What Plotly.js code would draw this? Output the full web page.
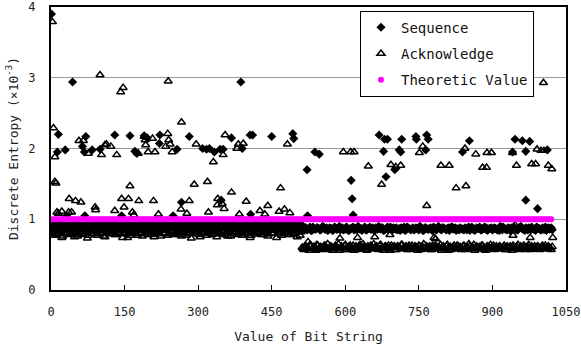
<!DOCTYPE html>
<html>
<head>
<meta charset="utf-8">
<script src="https://cdn.plot.ly/plotly-3.0.1.min.js"></script>
<style>html,body{margin:0;padding:0;background:#fff;}#chart{width:581px;height:349px;}</style>
</head>
<body>
<div id="chart"></div>
<script>
// ---- Data ----
const bandStep = 4;           // spacing of the dense band samples (bit string values)
const lowStart = 0;           // first band segment starts at 0
const highStart = 512;        // second band segment starts at 512
const secondOffset = 2;       // second sample set sits between the first

// Sequence: dense band values, bit strings 0..508 (even multiples of 4)
const seqLowY = [
0.93,0.90,0.95,0.88,0.92,0.94,0.89,0.91,
0.96,0.87,0.93,0.90,0.94,0.88,0.92,0.95,
0.89,0.91,0.93,0.86,0.94,0.90,0.92,0.95,
0.88,0.93,0.91,0.89,0.96,0.90,0.87,0.94,
0.92,0.89,0.95,0.91,0.88,0.93,0.90,0.94,
0.86,0.92,0.95,0.89,0.91,0.93,0.88,0.96,
0.90,0.92,0.87,0.94,0.91,0.89,0.95,0.93,
0.88,0.90,0.94,0.92,0.86,0.95,0.89,0.91,
0.93,0.90,0.96,0.88,0.92,0.94,0.87,0.91,
0.95,0.89,0.93,0.90,0.88,0.94,0.92,0.96,
0.89,0.91,0.87,0.93,0.95,0.90,0.92,0.88,
0.94,0.91,0.86,0.93,0.95,0.89,0.90,0.92,
0.94,0.88,0.91,0.95,0.87,0.93,0.90,0.92,
0.96,0.89,0.91,0.94,0.88,0.93,0.90,0.95,
0.87,0.92,0.89,0.94,0.91,0.93,0.88,0.96,
0.90,0.92,0.86,0.94,0.91,0.89,0.95,0.93];
// Sequence: dense band values, bit strings 2..510
const seqLowY2 = [
0.91,0.94,0.88,0.92,0.96,0.89,0.93,0.87,
0.95,0.90,0.92,0.88,0.94,0.91,0.86,0.93,
0.90,0.95,0.89,0.92,0.87,0.94,0.91,0.96,
0.88,0.92,0.94,0.90,0.86,0.93,0.95,0.89,
0.91,0.87,0.94,0.92,0.89,0.96,0.90,0.93,
0.88,0.95,0.91,0.86,0.93,0.90,0.94,0.89,
0.92,0.96,0.88,0.91,0.93,0.87,0.95,0.90,
0.94,0.89,0.92,0.86,0.91,0.93,0.88,0.95,
0.90,0.94,0.87,0.92,0.89,0.96,0.91,0.93,
0.88,0.90,0.95,0.92,0.86,0.94,0.89,0.91,
0.93,0.87,0.90,0.96,0.92,0.88,0.94,0.91,
0.89,0.95,0.93,0.87,0.90,0.92,0.86,0.94,
0.91,0.89,0.95,0.88,0.93,0.90,0.96,0.92,
0.87,0.94,0.91,0.89,0.93,0.86,0.95,0.90,
0.92,0.88,0.94,0.91,0.96,0.89,0.93,0.87,
0.90,0.95,0.92,0.88,0.94,0.91,0.89,0.93];
// Sequence: dense band values, bit strings 512..1020
const seqHighY = [
0.87,0.85,0.88,0.86,0.89,0.84,0.87,0.86,
0.88,0.85,0.87,0.89,0.86,0.84,0.88,0.87,
0.85,0.88,0.86,0.90,0.87,0.85,0.86,0.88,
0.84,0.87,0.89,0.86,0.85,0.88,0.87,0.86,
0.89,0.85,0.87,0.86,0.88,0.84,0.87,0.90,
0.86,0.88,0.85,0.87,0.86,0.89,0.85,0.87,
0.88,0.86,0.84,0.87,0.89,0.85,0.88,0.86,
0.87,0.85,0.88,0.86,0.90,0.87,0.84,0.88,
0.86,0.87,0.85,0.89,0.86,0.88,0.87,0.85,
0.88,0.86,0.87,0.84,0.89,0.86,0.88,0.87,
0.85,0.87,0.86,0.88,0.85,0.89,0.87,0.86,
0.84,0.88,0.87,0.85,0.86,0.89,0.88,0.86,
0.87,0.85,0.88,0.86,0.87,0.90,0.85,0.87,
0.86,0.88,0.84,0.87,0.89,0.86,0.85,0.88,
0.87,0.86,0.88,0.85,0.87,0.89,0.86,0.84,
0.88,0.87,0.85,0.86,0.89,0.87,0.86,0.88];
// Sequence: dense band values, bit strings 514..1022
const seqHighY2 = [
0.86,0.88,0.85,0.87,0.84,0.89,0.86,0.88,
0.87,0.85,0.90,0.86,0.88,0.85,0.87,0.84,
0.89,0.86,0.87,0.85,0.88,0.86,0.89,0.84,
0.87,0.88,0.85,0.87,0.90,0.86,0.84,0.88,
0.85,0.87,0.89,0.86,0.85,0.88,0.86,0.87,
0.88,0.84,0.86,0.89,0.87,0.85,0.88,0.86,
0.85,0.87,0.88,0.86,0.84,0.89,0.87,0.85,
0.88,0.86,0.87,0.85,0.89,0.84,0.88,0.87,
0.86,0.88,0.84,0.87,0.85,0.90,0.86,0.88,
0.87,0.85,0.88,0.86,0.89,0.87,0.84,0.86,
0.88,0.86,0.85,0.87,0.88,0.84,0.89,0.87,
0.86,0.87,0.89,0.85,0.88,0.86,0.84,0.87,
0.88,0.86,0.87,0.85,0.84,0.88,0.89,0.86,
0.85,0.87,0.88,0.86,0.87,0.85,0.88,0.90,
0.86,0.84,0.87,0.88,0.85,0.87,0.86,0.89,
0.87,0.85,0.88,0.86,0.84,0.88,0.87,0.85];
// Sequence: scattered values away from the band
const seqOutX = [1,44,387,15,71,64,68,13,29,84,100,130,161,171,175,190,196,221,222,257,282,309,317,323,333,345,351,368,390,406,411,450,493,495,538,547,522,612,614,616,523,669,678,680,686,683,701,710,713,715,744,745,764,766,769,839,853,941,946,961,968,976,1012,968,992,266,347,407,32,69,144,249];
const seqOutY = [3.90,2.94,2.94,2.20,2.17,2.03,1.95,1.95,1.98,1.98,1.99,2.19,2.18,1.96,1.93,2.18,2.15,2.07,2.19,1.99,2.17,2.00,1.99,2.00,1.95,1.99,1.99,2.15,2.00,2.19,2.19,2.17,2.21,2.14,1.95,1.92,1.70,1.55,1.29,1.06,1.05,2.19,1.96,2.13,2.13,1.60,1.70,1.98,1.95,2.13,2.17,2.13,1.98,2.19,2.13,1.95,2.11,1.95,2.13,2.11,1.96,2.10,1.98,1.27,1.15,1.24,1.27,1.07,1.05,1.05,1.05,1.05];

// Acknowledge: dense band values, bit strings 0..508
const ackLowY = [
0.86,0.80,0.84,0.78,0.88,0.82,0.76,0.85,
0.81,0.87,0.79,0.83,0.75,0.86,0.80,0.84,
0.78,0.89,0.82,0.77,0.85,0.80,0.83,0.87,
0.79,0.84,0.81,0.76,0.88,0.82,0.86,0.80,
0.83,0.78,0.85,0.81,0.87,0.79,0.84,0.74,
0.82,0.86,0.80,0.83,0.77,0.88,0.81,0.85,
0.79,0.84,0.82,0.78,0.86,0.80,0.83,0.87,
0.76,0.85,0.81,0.84,0.79,0.88,0.82,0.80,
0.86,0.78,0.83,0.81,0.85,0.77,0.84,0.80,
0.87,0.82,0.79,0.85,0.75,0.83,0.81,0.86,
0.80,0.84,0.78,0.88,0.82,0.85,0.79,0.83,
0.81,0.87,0.76,0.84,0.80,0.86,0.82,0.78,
0.85,0.83,0.79,0.87,0.81,0.84,0.77,0.86,
0.80,0.82,0.85,0.78,0.88,0.81,0.83,0.79,
0.86,0.80,0.84,0.74,0.82,0.87,0.79,0.85,
0.81,0.83,0.78,0.86,0.80,0.84,0.82,0.77];
// Acknowledge: dense band values, bit strings 2..510
const ackLowY2 = [
0.82,0.77,0.88,0.80,0.84,0.74,0.86,0.79,
0.90,0.83,0.78,0.85,0.81,0.76,0.87,0.82,
0.79,0.84,0.73,0.86,0.80,0.89,0.83,0.77,
0.85,0.81,0.87,0.75,0.82,0.79,0.84,0.88,
0.78,0.83,0.80,0.86,0.74,0.85,0.81,0.89,
0.77,0.82,0.87,0.79,0.84,0.80,0.76,0.86,
0.83,0.78,0.88,0.81,0.75,0.85,0.82,0.79,
0.87,0.80,0.84,0.77,0.90,0.83,0.78,0.86,
0.81,0.85,0.76,0.82,0.88,0.79,0.84,0.73,
0.86,0.80,0.83,0.78,0.89,0.81,0.85,0.77,
0.82,0.87,0.79,0.84,0.75,0.86,0.80,0.83,
0.78,0.88,0.82,0.76,0.85,0.79,0.87,0.81,
0.84,0.77,0.83,0.80,0.86,0.74,0.82,0.89,
0.79,0.85,0.81,0.87,0.78,0.83,0.76,0.86,
0.80,0.84,0.88,0.79,0.82,0.77,0.85,0.81,
0.87,0.78,0.83,0.80,0.86,0.75,0.84,0.82];
// Acknowledge: dense band values, bit strings 512..1020
const ackHighY = [
0.60,0.57,0.62,0.59,0.64,0.58,0.61,0.56,
0.63,0.60,0.58,0.62,0.57,0.65,0.59,0.61,
0.58,0.63,0.60,0.56,0.62,0.59,0.64,0.57,
0.61,0.58,0.63,0.60,0.57,0.62,0.59,0.65,
0.60,0.56,0.61,0.63,0.58,0.60,0.62,0.57,
0.64,0.59,0.61,0.58,0.63,0.56,0.60,0.62,
0.57,0.61,0.59,0.64,0.58,0.62,0.60,0.57,
0.63,0.59,0.61,0.56,0.62,0.58,0.65,0.60,
0.58,0.62,0.57,0.61,0.63,0.59,0.60,0.56,
0.62,0.58,0.64,0.60,0.57,0.61,0.59,0.63,
0.60,0.57,0.62,0.58,0.61,0.65,0.59,0.60,
0.56,0.62,0.60,0.58,0.63,0.57,0.61,0.59,
0.64,0.60,0.57,0.62,0.58,0.61,0.59,0.63,
0.57,0.60,0.62,0.56,0.61,0.59,0.64,0.58,
0.60,0.63,0.57,0.61,0.59,0.62,0.58,0.60,
0.62,0.57,0.61,0.59,0.63,0.58,0.60,0.57];
// Acknowledge: dense band values, bit strings 514..1022
const ackHighY2 = [
0.58,0.62,0.60,0.56,0.63,0.59,0.61,0.64,
0.57,0.61,0.59,0.63,0.60,0.58,0.62,0.56,
0.61,0.59,0.65,0.58,0.60,0.62,0.57,0.61,
0.63,0.59,0.56,0.62,0.60,0.64,0.58,0.61,
0.57,0.62,0.59,0.61,0.65,0.58,0.60,0.63,
0.59,0.56,0.62,0.60,0.58,0.63,0.61,0.57,
0.62,0.60,0.64,0.59,0.61,0.57,0.63,0.60,
0.58,0.62,0.60,0.63,0.57,0.61,0.59,0.62,
0.60,0.57,0.63,0.59,0.61,0.58,0.64,0.60,
0.59,0.62,0.56,0.61,0.60,0.63,0.58,0.62,
0.61,0.59,0.63,0.57,0.60,0.62,0.58,0.64,
0.60,0.58,0.61,0.63,0.59,0.56,0.62,0.60,
0.59,0.63,0.60,0.58,0.62,0.59,0.61,0.57,
0.62,0.60,0.58,0.63,0.59,0.61,0.57,0.62,
0.58,0.61,0.60,0.64,0.57,0.59,0.62,0.60,
0.61,0.59,0.63,0.58,0.60,0.62,0.59,0.61];
// Acknowledge: scattered values away from the band
const ackOutX = [3,100,142,147,239,266,1004,5,8,57,66,76,103,110,113,122,134,178,190,192,193,198,207,212,234,238,240,243,247,296,355,351,379,382,392,482,331,596,611,618,647,674,751,758,844,866,889,898,941,991,999,1005,693,703,713,795,812,880,888,949,980,988,1014,1021,826,846,766,8,10,161,292,319,368,468,37,50,61,144,158,149,179,209,265,282,130,90,91,15,22,36,219,169,277,12,42,166,321,340,339,349,353,398,426,442,465,476,487,384,436,524,589,625,660,691,756,781,784,942,946,977,1023];
const ackOutY = [3.79,3.04,2.80,2.86,2.95,2.37,2.93,2.29,1.88,2.11,2.11,1.93,1.91,2.05,2.06,2.03,1.91,1.93,2.17,2.12,2.05,1.95,2.14,1.95,2.03,2.21,2.12,2.06,1.95,2.06,2.19,1.91,2.00,2.06,2.07,2.06,1.81,1.95,1.95,1.95,1.75,1.49,1.94,2.03,2.00,1.92,1.94,1.94,1.94,1.99,1.97,1.97,1.77,1.74,1.76,1.76,1.76,1.73,1.73,1.76,1.78,1.78,1.76,1.71,1.44,1.47,1.19,1.53,1.51,1.47,1.49,1.53,1.38,1.44,1.29,1.26,1.24,1.29,1.29,1.17,1.26,1.26,1.14,1.26,1.12,1.17,1.13,1.08,1.11,1.10,1.07,1.06,1.08,1.10,1.10,1.10,1.10,1.29,1.20,1.22,1.15,1.25,1.12,1.19,1.11,1.14,1.09,1.07,1.07,0.68,0.73,0.74,0.75,0.78,0.85,0.74,0.72,0.77,0.92,0.74,0.74];

// Theoretic value (constant)
const theoreticValue = 1.0;

const xTickVals = [0,150,300,450,600,750,900,1050];
const yTickVals = [0,1,2,3,4];
const seriesNames = ['Sequence','Acknowledge','Theoretic Value'];

// ---- Build traces ----
const xsFor = (arr, start) => arr.map((_, i) => start + i * bandStep);
const seqX = [].concat(xsFor(seqLowY, lowStart), xsFor(seqLowY2, lowStart + secondOffset),
                       xsFor(seqHighY, highStart), xsFor(seqHighY2, highStart + secondOffset), seqOutX);
const seqY = [].concat(seqLowY, seqLowY2, seqHighY, seqHighY2, seqOutY);
const ackX = [].concat(xsFor(ackLowY, lowStart), xsFor(ackLowY2, lowStart + secondOffset),
                       xsFor(ackHighY, highStart), xsFor(ackHighY2, highStart + secondOffset), ackOutX);
const ackY = [].concat(ackLowY, ackLowY2, ackHighY, ackHighY2, ackOutY);
const thX = [].concat(xsFor(seqLowY, lowStart), xsFor(seqHighY, highStart));
const thY = thX.map(() => theoreticValue);

const traces = [
  {
    type:'scatter', mode:'markers', name:seriesNames[0], legendgroup:'a',
    x: seqX, y: seqY,
    marker:{symbol:'diamond', size:7, color:'black', line:{width:0}}
  },
  {
    type:'scatter', mode:'markers', name:seriesNames[1], legendgroup:'b',
    x: ackX, y: ackY,
    marker:{symbol:'triangle-up-open', size:7, color:'black', line:{width:1.5, color:'black'}}
  },
  {
    type:'scatter', mode:'markers', name:seriesNames[2], legendgroup:'c',
    x: thX, y: thY,
    marker:{symbol:'circle', size:6, color:'#ff00ff', line:{width:0}}
  }
];

const layout = {
  width:581, height:349,
  margin:{l:51, r:15, t:7, b:59},
  paper_bgcolor:'white', plot_bgcolor:'white',
  font:{family:'DejaVu Sans Mono, monospace', size:12, color:'#222'},
  showlegend:true,
  xaxis:{
    range:[0,1050], tickvals:xTickVals, ticks:'inside', ticklen:5, tickwidth:1, tickcolor:'black',
    showline:true, linecolor:'black', linewidth:2, mirror:true, showgrid:false, zeroline:false,
    ticklabelstandoff:10,
    title:{text:'Value of Bit String', font:{size:13, color:'#222'}, standoff:13}
  },
  yaxis:{
    range:[0,4], tickvals:yTickVals, ticks:'', showline:true, linecolor:'black', linewidth:2, mirror:true,
    showgrid:true, gridcolor:'#9a9a9a', gridwidth:1, zeroline:false, ticklabelstandoff:11,
    title:{text:'Discrete Entropy (×10<sup>-3</sup>)', font:{size:13, color:'#222'}, standoff:7}
  },
  legend:{
    x:0.6, y:0.987, xanchor:'left', yanchor:'top', bgcolor:'white', bordercolor:'black', borderwidth:1,
    font:{size:14, color:'#111'}, tracegroupgap:5, itemwidth:30
  }
};

Plotly.newPlot('chart', traces, layout, {displayModeBar:false, staticPlot:true});
</script>
</body>
</html>
